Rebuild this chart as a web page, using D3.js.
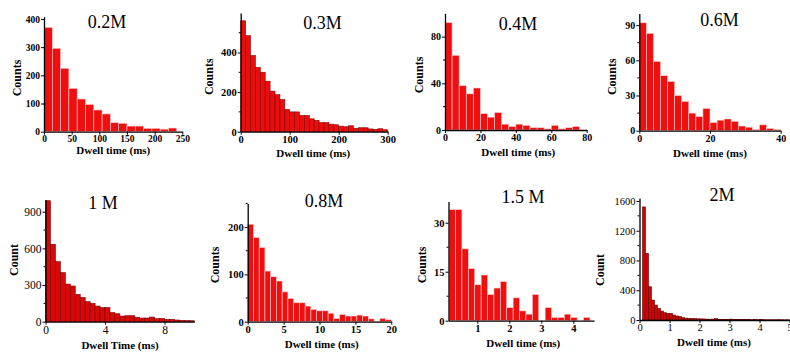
<!DOCTYPE html>
<html>
<head>
<meta charset="utf-8">
<script src="https://cdn.jsdelivr.net/npm/d3@7"></script>
<style>
  body { margin: 0; background: #fff; }
  svg text { font-family: "Liberation Serif", "Times New Roman", serif; }
</style>
</head>
<body>
<div id="chart"></div>
<script>
// panel titles / axis titles
const titles = ["0.2M", "0.3M", "0.4M", "0.6M", "1 M", "0.8M", "1.5 M", "2M"];
const yTitles = ["Counts", "Counts", "Counts", "Counts", "Count", "Counts", "Counts", "Count"];
const xTitles = ["Dwell time (ms)", "Dwell time (ms)", "Dwell time (ms)", "Dwell time (ms)",
                 "Dwell Time (ms)", "Dwell time (ms)", "Dwell time (ms)", "Dwell time (ms)"];

// histogram counts
const counts02M = [370, 296, 225, 154, 116, 97, 77, 63, 32, 30, 20, 20, 12, 12, 9, 13];
const counts03M = [560, 485, 385, 325, 300, 255, 205, 187, 162, 112, 100, 100, 82, 82, 65,
                   57, 46, 46, 38, 35, 28, 25, 30, 17, 20, 20, 14, 12, 15, 10];
const counts04M = [92, 64, 38, 31, 36, 14, 11, 15, 5, 3, 5, 4, 2, 2, 1, 4, 1, 2, 3];
const counts06M = [92, 83, 59, 47, 42, 30, 25, 15, 12, 19, 7, 9, 10, 8, 4, 3, 1, 5, 2, 1];
const counts1M = [990, 633, 491, 401, 308, 292, 224, 199, 164, 150, 128, 115, 115, 74, 65,
                  46, 49, 49, 35, 30, 30, 38, 25, 27, 19, 19, 14, 11, 10, 8];
const counts08M = [206, 178, 157, 107, 95, 86, 63, 49, 40, 40, 33, 26, 23, 23, 18, 7, 15,
                   12, 12, 14, 12, 6, 1, 7, 4];
const counts15M = [34, 34, 22, 16, 11, 14, 8, 10, 12, 4, 7, 3, 2, 8, 0, 4, 1, 1, 2, 1, 0, 1];
const counts2M = [1520, 894, 447, 268, 201, 156, 120, 98, 89, 89, 67, 54, 45, 31, 25, 22, 20,
                  18, 16, 15, 14, 12, 10, 12, 18, 10, 9, 10, 8, 12, 8, 7, 6, 5, 6, 5, 4, 5, 4,
                  8, 4, 3, 3, 3, 3, 4, 3, 2, 3];
const allCounts = [counts02M, counts03M, counts04M, counts06M, counts1M, counts08M, counts15M, counts2M];

// bins: first edge and width (ms)
const binStart = [0, 0, 0, 0, 0, 0, 0.12, 0.1];
const binWidth = [15, 10, 4, 2, 1 / 3, 0.8, 0.2, 0.1];

// axis ranges and ticks
const xDomains = [[0, 250], [0, 300], [0, 80], [0, 40], [0, 10], [0, 20], [0.1, 4.65], [0, 5.05]];
const yDomains = [[0, 408], [0, 600], [0, 100], [0, 100], [0, 1000], [0, 250], [0, 36.5], [0, 1640]];
const xTicks = [[0, 50, 100, 150, 200, 250], [0, 100, 200, 300], [0, 20, 40, 60, 80], [0, 20, 40],
                [0, 4, 8], [0, 5, 10, 15, 20], [1, 2, 3, 4], [0, 1, 2, 3, 4, 5]];
const yTicks = [[0, 100, 200, 300, 400], [0, 200, 400], [0, 40, 80], [0, 30, 60, 90],
                [0, 300, 600, 900], [0, 100, 200], [0, 15, 30], [0, 400, 800, 1200, 1600]];
const yMinor = [[], [100, 300, 500], [20, 60], [15, 45, 75], [150, 450, 750],
                [50, 150, 250], [7.5, 22.5], [200, 600, 1000, 1400]];

// pixel frame of every panel: x range, y range, title and label spots
const layout = [
  { xr: [44, 182.3], yr: [131.7, 16.7], title: [107, 28.3], yl: [16.7, 78], xl: [113.3, 154], bold: true, tf: 9.5 },
  { xr: [240.7, 387.7], yr: [131.7, 12.9], title: [322.5, 29.3], yl: [209, 76.7], xl: [313.3, 157.3], bold: true, tf: 10.5 },
  { xr: [445, 586.7], yr: [130, 13.3], title: [518, 30], yl: [419, 75], xl: [518.3, 155.7], bold: true, tf: 10 },
  { xr: [639.3, 780.7], yr: [130.7, 13.4], title: [719.5, 26], yl: [611.7, 76.7], xl: [710, 156.7], bold: true, tf: 10 },
  { xr: [45.5, 194.3], yr: [321.7, 199.5], title: [103, 209], yl: [14, 260], xl: [120, 349.3], bold: false, tf: 11.5 },
  { xr: [247.7, 391.3], yr: [321.7, 203.4], title: [324, 206.7], yl: [215, 265], xl: [321.7, 348.3], bold: true, tf: 10.5 },
  { xr: [448.5, 594.1], yr: [320.7, 201.5], title: [523, 203.3], yl: [421.7, 265], xl: [523.3, 347.3], bold: true, tf: 10.5 },
  { xr: [639.5, 791], yr: [320, 198], title: [722, 201], yl: [600, 270], xl: [714, 345.7], bold: false, tf: 10.5 }
];
const barFill = ["#ee1010", "#e80e0e", "#ee1010", "#ee1010", "#d80808", "#ee1010", "#ee1010", "#cc0606"];
const barEdge = ["#ffd0d0", "#8a0000", "#ffd0d0", "#ffd0d0", "#7a0000", "#ffd0d0", "#ffd0d0", "#5a0000"];

const svg = d3.select("#chart").append("svg")
    .attr("width", 790)
    .attr("height", 354);

allCounts.forEach((counts, p) => {
    const L = layout[p];
    const x = d3.scaleLinear().domain(xDomains[p]).range(L.xr);
    const y = d3.scaleLinear().domain(yDomains[p]).range(L.yr);
    const g = svg.append("g");

    // bars
    g.selectAll("rect")
        .data(counts)
        .enter()
        .append("rect")
        .attr("x", (d, i) => x(binStart[p] + i * binWidth[p]))
        .attr("width", (d, i) => x(binStart[p] + (i + 1) * binWidth[p]) - x(binStart[p] + i * binWidth[p]))
        .attr("y", d => y(d))
        .attr("height", d => y(0) - y(d))
        .attr("fill", barFill[p])
        .attr("stroke", barEdge[p])
        .attr("stroke-width", 0.6);

    const fw = L.bold ? "bold" : "normal";

    // axes
    const xa = g.append("g")
        .attr("transform", `translate(0,${L.yr[0]})`)
        .call(d3.axisBottom(x).tickValues(xTicks[p]).tickSize(3).tickSizeOuter(0).tickPadding(1)
            .tickFormat(d3.format("~g")));
    const ya = g.append("g")
        .attr("transform", `translate(${L.xr[0]},0)`)
        .call(d3.axisLeft(y).tickValues(yTicks[p]).tickSize(3).tickSizeOuter(0).tickPadding(1)
            .tickFormat(d3.format("~g")));

    ya.selectAll(".minor")
        .data(yMinor[p])
        .enter()
        .append("line")
        .attr("class", "minor")
        .attr("x1", -2).attr("x2", 0)
        .attr("y1", d => y(d)).attr("y2", d => y(d))
        .attr("stroke", "#000");

    [xa, ya].forEach(a => {
        a.select(".domain").attr("stroke-width", 1.3);
        a.selectAll("text")
            .attr("font-size", L.tf)
            .attr("font-weight", fw)
            .attr("fill", "#000");
    });

    // titles
    g.append("text")
        .attr("x", L.title[0]).attr("y", L.title[1])
        .attr("text-anchor", "middle")
        .attr("font-size", 18)
        .text(titles[p]);

    g.append("text")
        .attr("transform", `translate(${L.yl[0]},${L.yl[1]}) rotate(-90)`)
        .attr("dy", "0.35em")
        .attr("text-anchor", "middle")
        .attr("font-size", 12)
        .attr("font-weight", "bold")
        .text(yTitles[p]);

    g.append("text")
        .attr("x", L.xl[0]).attr("y", L.xl[1])
        .attr("text-anchor", "middle")
        .attr("font-size", 11)
        .attr("font-weight", "bold")
        .text(xTitles[p]);
});
</script>
</body>
</html>
